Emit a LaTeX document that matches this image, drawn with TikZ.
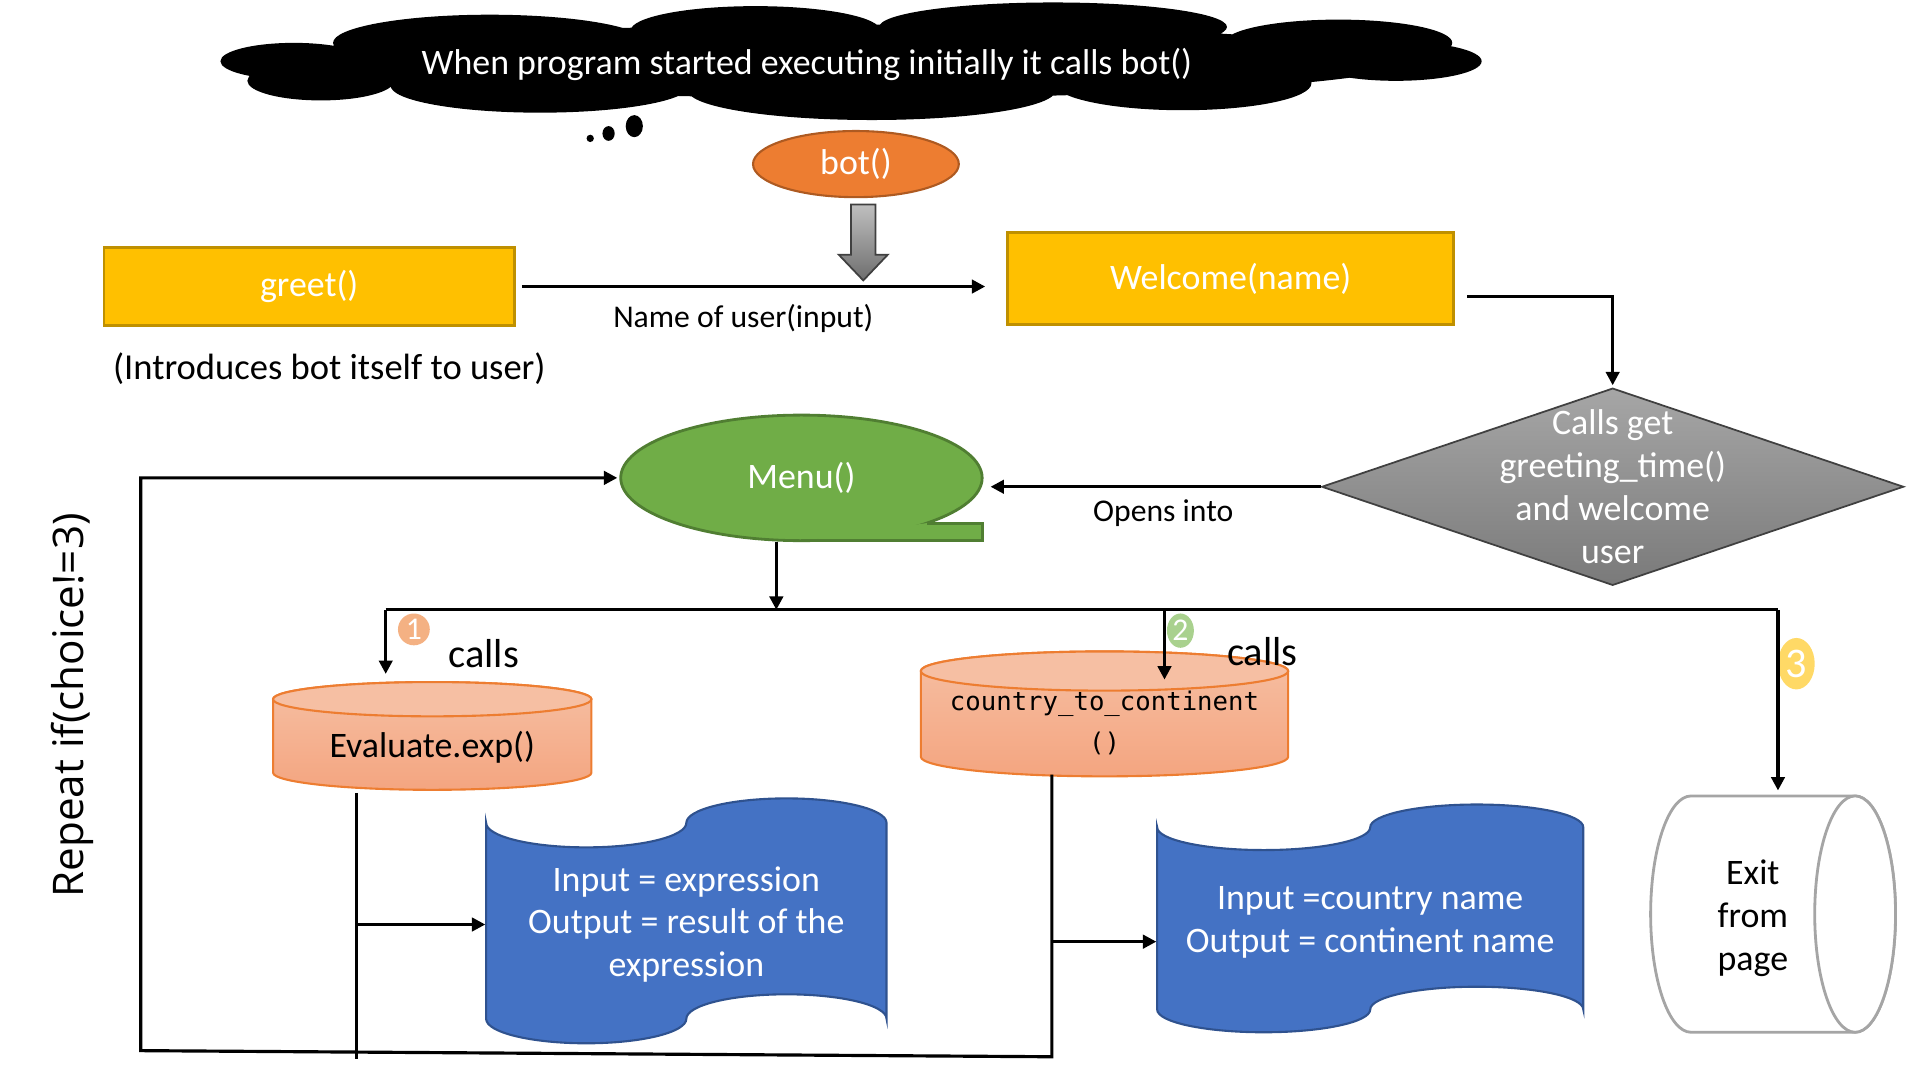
\documentclass[tikz,border=0pt]{standalone}
\usepackage{fontspec}
\setmainfont{Carlito}
\setmonofont{DejaVu Sans Mono}
\newfontfamily\repeatfont{Open Sans}
\usetikzlibrary{shapes.geometric,arrows.meta}
\definecolor{botfill}{HTML}{ED7D31}
\definecolor{botline}{HTML}{AE5A21}
\definecolor{boxfill}{HTML}{FFC000}
\definecolor{boxline}{HTML}{BF9000}
\definecolor{menufill}{HTML}{70AD47}
\definecolor{menuline}{HTML}{507E32}
\definecolor{tapefill}{HTML}{4472C4}
\definecolor{tapeline}{HTML}{2F528F}
\definecolor{cylline}{HTML}{ED7D31}
\definecolor{cyltop}{HTML}{F6BFA3}
\definecolor{cylbot}{HTML}{F4A580}
\definecolor{exitline}{HTML}{A5A5A5}
\definecolor{diamtop}{HTML}{A6A6A6}
\definecolor{diambot}{HTML}{7A7A7A}
\definecolor{diamline}{HTML}{404040}
\definecolor{arrtop}{HTML}{BFBFBF}
\definecolor{arrbot}{HTML}{6E6E6E}
\definecolor{onecol}{HTML}{F4B183}
\definecolor{twocol}{HTML}{A9D18E}
\definecolor{threecol}{HTML}{FFD966}
\begin{document}
\begin{tikzpicture}[x=0.012245cm,y=-0.012245cm,
    every node/.style={font=\fontsize{10.2}{12.2}\selectfont},
    arr/.style={line width=0.9pt,-{Triangle[length=3.8pt,width=3.8pt]}},
    wire/.style={line width=0.9pt},
    fnbox/.style={rectangle,fill=boxfill,draw=boxline,line width=0.8pt,text=white},
    cylbody/.style={draw=cylline,line width=0.6pt,top color=cyltop,bottom color=cylbot},
    cylface/.style={draw=cylline,line width=0.6pt,fill=cyltop},
    exitcyl/.style={draw=exitline,line width=0.8pt,fill=white},
    tape/.style={draw=tapeline,fill=tapefill,line width=0.6pt},
    numdot/.style={ellipse,inner sep=0pt,text=white,font=\fontsize{9}{10}\selectfont},
    lbl/.style={font=\fontsize{9}{11}\selectfont},
    callslbl/.style={font=\fontsize{11.5}{13}\selectfont}]
  \useasboundingbox (0,0) rectangle (1568,882);

  % thought cloud
  \fill (240,50) ellipse [x radius=60,y radius=15]
        (400,35) ellipse [x radius=128,y radius=23]
        (617,25) ellipse [x radius=102,y radius=20]
        (860,22) ellipse [x radius=142,y radius=20]
        (1093,35) ellipse [x radius=93,y radius=19]
        (1140,50) ellipse [x radius=70,y radius=16]
        (966,68) ellipse [x radius=105,y radius=22]
        (712,74) ellipse [x radius=150,y radius=24]
        (441,70) ellipse [x radius=122,y radius=22]
        (262,66) ellipse [x radius=60,y radius=16]
        (700,50) ellipse [x radius=450,y radius=30];
  \fill (518,103) ellipse [x radius=7,y radius=9]
        (497,109) ellipse [x radius=5,y radius=6]
        (482,113) circle [radius=3];

  % block arrow
  \draw[draw=diamline,top color=arrtop,bottom color=arrbot,line width=0.5pt]
    (695,167) -- (715,167) -- (715,208) -- (725,208) -- (705,229) -- (685,208) -- (695,208) -- cycle;

  % cylinders
  \draw[cylbody] (223,571) -- (223,631) arc[start angle=180,end angle=0,x radius=130,y radius=14]
    -- (483,571) arc[start angle=0,end angle=-180,x radius=130,y radius=14] -- cycle;
  \draw[cylface] (353,571) ellipse [x radius=130,y radius=14];
  \draw[cylbody] (752,548) -- (752,618) arc[start angle=180,end angle=0,x radius=150,y radius=16]
    -- (1052,548) arc[start angle=0,end angle=-180,x radius=150,y radius=16] -- cycle;
  \draw[cylface] (902,548) ellipse [x radius=150,y radius=16];
  \draw[exitcyl] (1381,650) -- (1515,650) arc[start angle=-90,end angle=90,x radius=33,y radius=96.5]
    -- (1381,843) arc[start angle=90,end angle=270,x radius=33,y radius=96.5] -- cycle;
  \draw[exitcyl] (1515,746.5) ellipse [x radius=33,y radius=96.5];

  % tapes
  \draw[tape] (397,672) arc[start angle=180,end angle=0,x radius=81.75,y radius=20]
    arc[start angle=180,end angle=360,x radius=81.75,y radius=20]
    -- (724,832) arc[start angle=0,end angle=-180,x radius=81.75,y radius=20]
    arc[start angle=0,end angle=180,x radius=81.75,y radius=20] -- cycle;
  \draw[tape] (945,675.6) arc[start angle=180,end angle=0,x radius=87,y radius=18.6]
    arc[start angle=180,end angle=360,x radius=87,y radius=18.6]
    -- (1293,824.4) arc[start angle=0,end angle=-180,x radius=87,y radius=18.6]
    arc[start angle=0,end angle=180,x radius=87,y radius=18.6] -- cycle;

  \node[text=white] (cloudtxt) at (659,53) {When program started executing initially it calls bot()};
  \node[ellipse,fill=botfill,draw=botline,line width=0.6pt,text=white,minimum width=2.057cm,minimum height=0.661cm,inner sep=0pt] (bot) at (699,134) {bot()};
  \node[fnbox,minimum width=4.102cm,minimum height=0.784cm] (greet) at (252.5,234) {greet()};
  \node[fnbox,minimum width=4.457cm,minimum height=0.918cm] (welcome) at (1005,227.5) {Welcome(name)};
  \node[font=\fontsize{10.4}{12.6}\selectfont] (intro) at (269,301) {(Introduces bot itself to user)};
  \node[lbl] (namelbl) at (607,260) {Name of user(input)};
  \node[diamond,draw=diamline,line width=0.5pt,top color=diamtop,bottom color=diambot,minimum width=5.816cm,minimum height=1.971cm,inner sep=0pt,
    label={[align=center,text=white]center:Calls get\\greeting\_time()\\and welcome\\user}] (greettime) at (1317,397.5) {};
  \node[lbl] (opens) at (950,419) {Opens into};
  \node[ellipse,fill=menufill,draw=menuline,line width=0.8pt,text=white,minimum width=3.612cm,minimum height=1.255cm,inner sep=0pt] (menu) at (654.5,390.25) {Menu()};
  \fill[menufill] (756.7,427.2) -- (802.4,427.2) -- (802.4,441.5) -- (654.5,441.5) -- cycle;
  \draw[menuline,line width=0.8pt] (756.7,427.2) -- (802.4,427.2) -- (802.4,441.5) -- (654.5,441.5);
  \node[minimum width=3.184cm,minimum height=0.906cm] (eval) at (353,610) {Evaluate.exp()};
  \node[align=center,font=\ttfamily\fontsize{7.3}{11.5}\selectfont,minimum width=3.674cm,minimum height=1.016cm] (ctc) at (902,590.5) {country\_to\_continent\\()};
  \node[align=center,minimum width=1.237cm,minimum height=2.363cm] (exitpg) at (1431.5,750) {Exit\\from\\page};
  \node[align=center,text=white,minimum width=4.004cm,minimum height=2.449cm] (evalout) at (560.5,755) {Input = expression\\Output = result of the\\expression};
  \node[align=center,text=white,minimum width=4.261cm,minimum height=2.278cm] (ctcout) at (1119,753) {Input =country name\\Output = continent name};
  \node[numdot,fill=onecol,minimum width=0.318cm,minimum height=0.318cm] (one) at (338,514) {1};
  \node[numdot,fill=twocol,minimum width=0.269cm,minimum height=0.343cm] (two) at (964,515) {2};
  \node[numdot,fill=threecol,minimum width=0.367cm,minimum height=0.514cm,font=\fontsize{12}{14}\selectfont] (three) at (1467,542) {3};
  \node[callslbl] (callsone) at (395,534) {calls};
  \node[callslbl] (callstwo) at (1031,532) {calls};
  \node[rotate=90,font=\repeatfont\fontsize{12}{14}\selectfont] (repeat) at (59,576) {Repeat if(choice!=3)};

  \coordinate (busL) at (315,498);
  \coordinate (busM) at (634,498);
  \coordinate (busC) at (951,498);
  \coordinate (busR) at (1452,498);
  \coordinate (evdown) at (291,865);
  \coordinate (ctcdown) at (859,863);
  \coordinate (loopL) at (115,858);
  \coordinate (ctcarr) at (859,769);
  \begin{scope}
    \draw[arr,shorten <=0.06cm,shorten >=0.21cm] (greet.east) -- (greet.east -| welcome.west);
    \draw[arr,shorten >=0.02cm] ([shift={(10,14.5)}]welcome.east) -| (greettime.north);
    \draw[arr,shorten >=0.07cm] (greettime.west) -- (greettime.west -| menu.east);
    \draw[arr] (busM |- menu.south) -- (busM);
    \draw[wire] (busL) -- (busR);
    \draw[arr,shorten >=0.27cm] (busL) -- (busL |- eval.north);
    \draw[arr,shorten >=-0.08cm] (busC) -- (busC |- ctc.north);
    \draw[arr,shorten >=0.09cm] (busR) -- (busR |- exitpg.north);
    \draw[wire] (evdown |- eval.south) -- (evdown);
    \draw[arr] (evdown |- evalout.west) -- (evalout.west);
    \draw[arr,shorten >=0.02cm] (ctcdown |- ctc.south) -- (ctcdown) -- (loopL) -- (loopL |- menu.west) -- (menu.west);
    \draw[arr] (ctcarr) -- (ctcarr -| ctcout.west);
  \end{scope}
\end{tikzpicture}
\end{document}
